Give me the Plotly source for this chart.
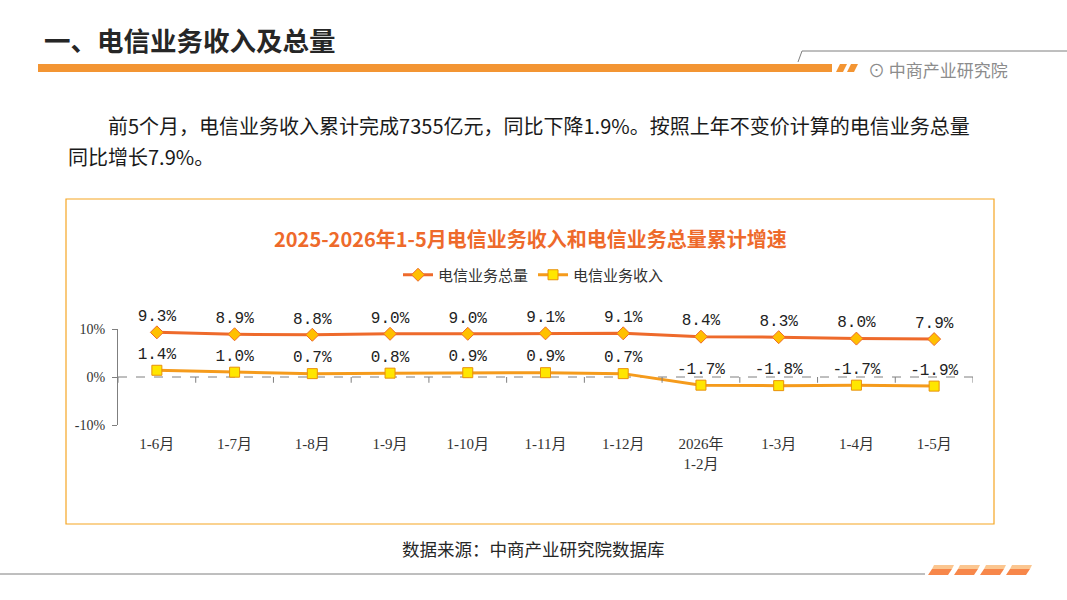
import plotly.graph_objects as go

W, H = 1067, 600

def px(x):
    return x / W

def py(y):
    # the photographed page comes out slightly squashed vertically, so place by target pixel
    return 1 - ((y - 8) / 0.975) / H

months = ['1-6月', '1-7月', '1-8月', '1-9月', '1-10月', '1-11月', '1-12月',
          '2026年<br>1-2月', '1-3月', '1-4月', '1-5月']
total_growth = [9.3, 8.9, 8.8, 9.0, 9.0, 9.1, 9.1, 8.4, 8.3, 8.0, 7.9]
revenue_growth = [1.4, 1.0, 0.7, 0.8, 0.9, 0.9, 0.7, -1.7, -1.8, -1.7, -1.9]
y_ticks = [-10, 0, 10]
y_tick_labels = ['-10%', '0%', '10%']

cjk = 'Noto Sans CJK SC'
num_font = 'Liberation Mono, Noto Sans CJK SC'
tick_font = 'Liberation Serif, Noto Sans CJK SC'

fig = go.Figure()

fig.add_trace(go.Scatter(
    x=months, y=total_growth, name='电信业务总量',
    mode='lines+markers+text',
    line=dict(color='#EE6A2B', width=3),
    marker=dict(symbol='diamond', size=10, color='#FFC000',
                line=dict(color='#EE6A2B', width=1)),
    text=[f'{v:.1f}%' for v in total_growth], textposition='top center',
    textfont=dict(family=num_font, size=16, color='#222222'),
    cliponaxis=False))

fig.add_trace(go.Scatter(
    x=months, y=revenue_growth, name='电信业务收入',
    mode='lines+markers+text',
    line=dict(color='#F59B1C', width=3),
    marker=dict(symbol='square', size=10, color='#FFE600',
                line=dict(color='#E8900A', width=1)),
    text=[f'{v:.1f}%' for v in revenue_growth], textposition='top center',
    textfont=dict(family=num_font, size=16, color='#222222'),
    cliponaxis=False))

shapes = []
# dashed zero line with small ticks between categories
shapes.append(dict(type='line', xref='x domain', yref='y', x0=0, x1=1, y0=0, y1=0,
                   line=dict(color='#7F7F7F', width=1, dash='dash'), layer='below'))
for i in range(len(months) + 1):
    shapes.append(dict(type='line', xref='x', yref='y', x0=i - 0.5, x1=i - 0.5,
                       y0=0, y1=-1.2, line=dict(color='#7F7F7F', width=1)))

# chart frame
shapes.append(dict(type='rect', xref='paper', yref='paper',
                   x0=px(66), x1=px(994), y0=py(525), y1=py(200),
                   line=dict(color='#F5A623', width=1.2)))

# header bar and decorations
shapes.append(dict(type='rect', xref='paper', yref='paper',
                   x0=px(38), x1=px(832), y0=py(73), y1=py(65),
                   line=dict(width=0), fillcolor='#F39533'))
for x0 in [836, 847]:
    shapes.append(dict(type='path', xref='paper', yref='paper',
                       path=f'M {px(x0)},{py(73)} L {px(x0 + 7)},{py(73)} L {px(x0 + 11)},{py(65)} L {px(x0 + 4)},{py(65)} Z',
                       line=dict(width=0), fillcolor='#F39533'))
shapes.append(dict(type='line', xref='paper', yref='paper',
                   x0=px(802), x1=px(1067), y0=py(52), y1=py(52),
                   line=dict(color='#7F7F7F', width=1)))
shapes.append(dict(type='line', xref='paper', yref='paper',
                   x0=px(802), x1=px(798), y0=py(52), y1=py(63),
                   line=dict(color='#7F7F7F', width=1)))

# footer line and dashes
shapes.append(dict(type='line', xref='paper', yref='paper',
                   x0=0, x1=px(925), y0=py(575), y1=py(575),
                   line=dict(color='#7F7F7F', width=1)))
for x0 in [928, 954, 980, 1006]:
    shapes.append(dict(type='path', xref='paper', yref='paper',
                       path=f'M {px(x0)},{py(576)} L {px(x0 + 20)},{py(576)} L {px(x0 + 24)},{py(570)} L {px(x0 + 4)},{py(570)} Z',
                       line=dict(width=0), fillcolor='#F7874A'))
    shapes.append(dict(type='path', xref='paper', yref='paper',
                       path=f'M {px(x0 + 4)},{py(570)} L {px(x0 + 24)},{py(570)} L {px(x0 + 26)},{py(566)} L {px(x0 + 6)},{py(566)} Z',
                       line=dict(width=0), fillcolor='#FBC690'))

annotations = [
    dict(text='<b>一、电信业务收入及总量</b>', x=px(42), y=py(40), xanchor='left', yanchor='middle',
         font=dict(family=cjk, size=26.5, color='#262626')),
    dict(text='⊙ 中商产业研究院', x=px(866), y=py(71), xanchor='left', yanchor='middle',
         font=dict(family=cjk, size=17, color='#8C8C8C')),
    dict(text='前5个月，电信业务收入累计完成7355亿元，同比下降1.9%。按照上年不变价计算的电信业务总量',
         x=px(106), y=py(127), xanchor='left', yanchor='middle',
         font=dict(family=cjk, size=20, color='#1A1A1A')),
    dict(text='同比增长7.9%。', x=px(66), y=py(157), xanchor='left', yanchor='middle',
         font=dict(family=cjk, size=20, color='#1A1A1A')),
    dict(text='<b>2025-2026年1-5月电信业务收入和电信业务总量累计增速</b>', x=px(530), y=py(239),
         xanchor='center', yanchor='middle',
         font=dict(family=cjk, size=20, color='#EE6A2B')),
    dict(text='数据来源：中商产业研究院数据库', x=px(400), y=py(549), xanchor='left', yanchor='middle',
         font=dict(family=cjk, size=17.5, color='#262626')),
]
for a in annotations:
    a.update(xref='paper', yref='paper', showarrow=False)

fig.update_layout(
    width=W, height=H, margin=dict(l=0, r=0, t=0, b=0),
    paper_bgcolor='white', plot_bgcolor='white',
    showlegend=True,
    legend=dict(orientation='h', x=0.5, xanchor='center', y=py(276), yanchor='middle',
                font=dict(family=cjk, size=15, color='#333333'), itemwidth=30,
                bgcolor='rgba(0,0,0,0)'),
    shapes=shapes, annotations=annotations,
)
fig.update_xaxes(type='category', domain=[px(118), px(973)], range=[-0.5, len(months) - 0.5],
                 showline=False, showgrid=False, zeroline=False, ticks='',
                 tickfont=dict(family=tick_font, size=15, color='#333333'),
                 ticklabelstandoff=8)
fig.update_yaxes(domain=[py(426), py(330)], range=[-10, 10],
                 tickvals=y_ticks, ticktext=y_tick_labels,
                 showline=True, linecolor='#7F7F7F', linewidth=1,
                 ticks='outside', ticklen=5, tickcolor='#7F7F7F',
                 showgrid=False, zeroline=False,
                 tickfont=dict(family=tick_font, size=14, color='#333333'),
                 ticklabelstandoff=4)

fig.write_html('out.html', config={'displayModeBar': False},
               post_script="document.body.style.margin='0';document.body.style.overflow='hidden';")
